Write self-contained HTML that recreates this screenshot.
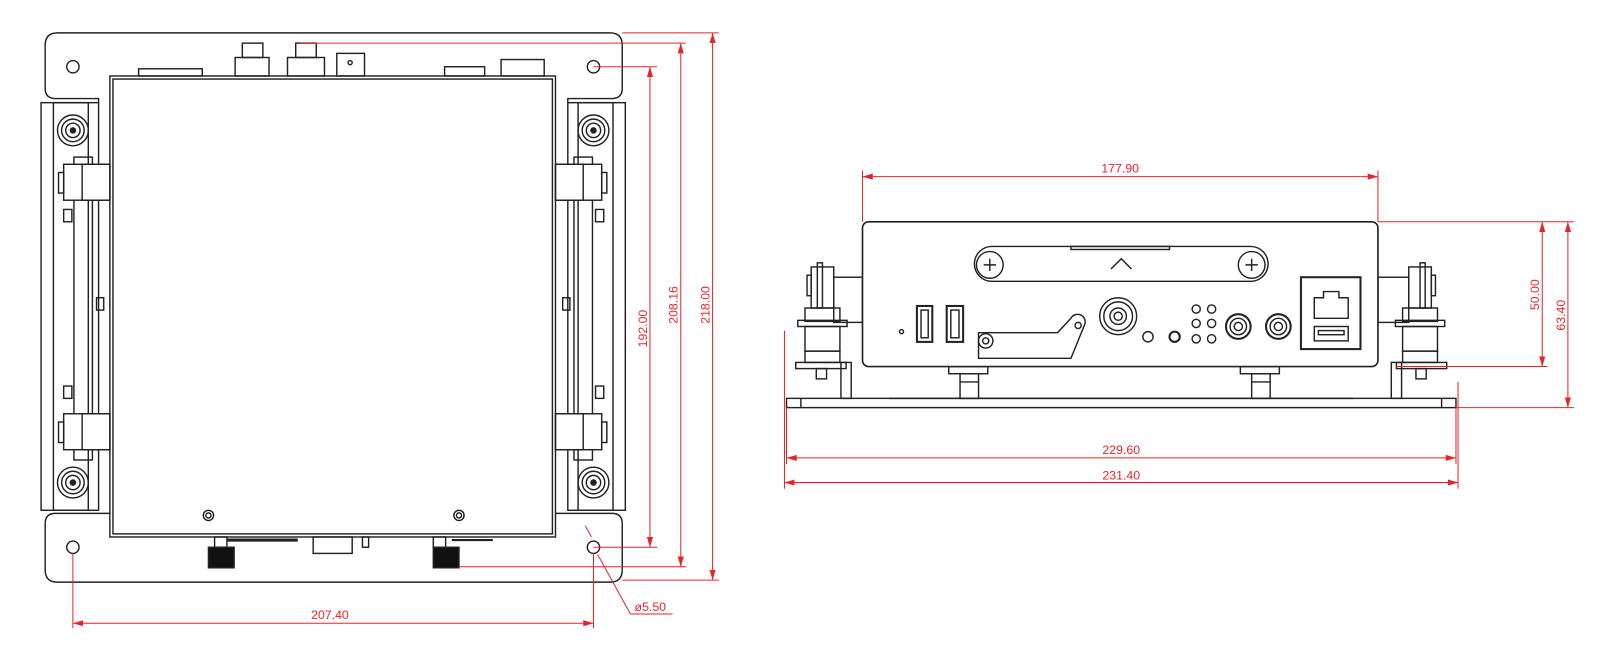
<!DOCTYPE html>
<html><head><meta charset="utf-8"><style>
html,body{margin:0;padding:0;background:#fff;width:1610px;height:653px;overflow:hidden}
svg{display:block}
text{font-family:"Liberation Sans",sans-serif;fill:#e8242a;font-size:12px}
</style></head><body>
<svg width="1610" height="653" viewBox="0 0 1568 636" preserveAspectRatio="none" xmlns="http://www.w3.org/2000/svg">
<defs>
<marker id="a" markerWidth="10" markerHeight="6" refX="10" refY="3" orient="auto-start-reverse" markerUnits="userSpaceOnUse"><path d="M0,0 L10,3 L0,6 z" fill="#e8242a"/></marker>
</defs>
<g fill="none" stroke="#222" stroke-width="1.4">
<!-- LEFT VIEW -->
<path d="M96,100 V96 H54 Q44,96 44,86 V44 Q44,32 56,32 H594 Q606,32 606,44 V86 Q606,96 596,96 H553 V100"/>
<path d="M54,500 H596 Q606,500 606,510 V555 Q606,567 594,567 H56 Q44,567 44,555 V510 Q44,500 54,500 Z"/>
<rect x="40" y="100" width="56" height="397"/>
<rect x="553" y="100" width="56" height="397"/>
<rect x="52" y="100" width="34" height="397"/>
<rect x="563" y="100" width="34" height="397"/>
<circle cx="71" cy="65" r="6"/><circle cx="578" cy="65" r="6"/>
<circle cx="71" cy="533" r="6"/><circle cx="578" cy="533" r="6"/>
<rect x="107" y="74" width="434" height="449" fill="#fff"/>
<rect x="110" y="77" width="428" height="443"/>
<rect x="135" y="67" width="62" height="7"/>
<rect x="229" y="56" width="33" height="18"/><rect x="236" y="42" width="20" height="14"/>
<rect x="280" y="56" width="36" height="18"/><rect x="288" y="42" width="20" height="14"/>
<rect x="328" y="52" width="27" height="22"/><circle cx="341" cy="61" r="2"/>
<rect x="433" y="65" width="39" height="9"/>
<rect x="488" y="58" width="42" height="16"/>
<g><circle cx="71" cy="127" r="15"/><circle cx="71" cy="127" r="11"/><circle cx="71" cy="127" r="7"/><circle cx="71" cy="127" r="2.5" fill="#222"/></g>
<g><circle cx="578" cy="127" r="15"/><circle cx="578" cy="127" r="11"/><circle cx="578" cy="127" r="7"/><circle cx="578" cy="127" r="2.5" fill="#222"/></g>
<g><circle cx="71" cy="470" r="15"/><circle cx="71" cy="470" r="11"/><circle cx="71" cy="470" r="7"/><circle cx="71" cy="470" r="2.5" fill="#222"/></g>
<g><circle cx="578" cy="470" r="15"/><circle cx="578" cy="470" r="11"/><circle cx="578" cy="470" r="7"/><circle cx="578" cy="470" r="2.5" fill="#222"/></g>
<rect x="72" y="153" width="18" height="295"/><rect x="559" y="153" width="18" height="295"/>
<rect x="62" y="160" width="45" height="35" fill="#fff"/><rect x="80" y="160" width="27" height="35"/>
<rect x="62" y="403" width="45" height="35" fill="#fff"/><rect x="80" y="403" width="27" height="35"/>
<rect x="541" y="160" width="45" height="35" fill="#fff"/><rect x="541" y="160" width="27" height="35"/>
<rect x="541" y="403" width="45" height="35" fill="#fff"/><rect x="541" y="403" width="27" height="35"/>
<rect x="57" y="168" width="5" height="20"/><rect x="586" y="168" width="5" height="20"/>
<rect x="57" y="411" width="5" height="20"/><rect x="586" y="411" width="5" height="20"/>
<rect x="62" y="204" width="8" height="12"/><rect x="580" y="204" width="8" height="12"/>
<rect x="62" y="376" width="8" height="12"/><rect x="580" y="376" width="8" height="12"/>
<rect x="94" y="290" width="7" height="12"/><rect x="548" y="290" width="7" height="12"/>
<circle cx="203" cy="502" r="5"/><circle cx="203" cy="502" r="2.5"/>
<circle cx="447" cy="502" r="5"/><circle cx="447" cy="502" r="2.5"/>
<rect x="209" y="523" width="12" height="10"/><rect x="422" y="523" width="12" height="10"/>
<rect x="305" y="523" width="38" height="16"/><rect x="353" y="523" width="6" height="10"/>
<line x1="221" y1="526" x2="290" y2="526" stroke-width="3"/>
<line x1="440" y1="526" x2="480" y2="526" stroke-width="2"/>
<rect x="203" y="533" width="25" height="20" fill="#111"/>
<rect x="422" y="533" width="25" height="20" fill="#111"/>

<!-- RIGHT VIEW -->
<rect x="766" y="388" width="652" height="9"/>
<line x1="866" y1="388" x2="1318" y2="388"/><line x1="780" y1="388" x2="780" y2="397"/><line x1="1404" y1="388" x2="1404" y2="397"/>
<g>
<rect x="790" y="260" width="22" height="40"/><rect x="796" y="256" width="5" height="44"/><rect x="786" y="268" width="4" height="20"/>
<rect x="812" y="270" width="28" height="44"/>
<rect x="784" y="300" width="34" height="13"/><rect x="777" y="312" width="48" height="6"/>
<rect x="784" y="318" width="34" height="24"/><rect x="784" y="342" width="34" height="11"/>
<rect x="775" y="353" width="49" height="6"/><rect x="795" y="359" width="10" height="10"/>
<rect x="819" y="353" width="10" height="35"/>
</g>
<g>
<rect x="1372" y="260" width="22" height="40"/><rect x="1383" y="256" width="5" height="44"/><rect x="1394" y="268" width="4" height="20"/>
<rect x="1342" y="270" width="30" height="44"/>
<rect x="1366" y="300" width="34" height="13"/><rect x="1359" y="312" width="48" height="6"/>
<rect x="1366" y="318" width="34" height="24"/><rect x="1366" y="342" width="34" height="11"/>
<rect x="1360" y="353" width="49" height="6"/><rect x="1379" y="359" width="10" height="10"/>
<rect x="1355" y="353" width="10" height="35"/>
</g>
<rect x="924" y="357" width="38" height="7"/><rect x="935" y="364" width="18" height="24"/><line x1="935" y1="372" x2="953" y2="372"/>
<rect x="1208" y="357" width="38" height="7"/><rect x="1219" y="364" width="18" height="24"/><line x1="1219" y1="372" x2="1237" y2="372"/>
<rect x="840" y="216" width="502" height="141" rx="6" fill="#fff" stroke-width="1.6"/>
<path d="M966,240 H1218 A17,17 0 0 1 1218,274 H966 A17,17 0 0 1 966,240 Z"/>
<circle cx="964" cy="258" r="13"/><path d="M958,258h12M964,252v12"/>
<circle cx="1219" cy="258" r="13"/><path d="M1213,258h12M1219,252v12"/>
<path d="M1082,262 L1092,252 L1102,262"/>
<rect x="1043" y="240" width="96" height="3"/>
<circle cx="878" cy="323" r="2"/>
<rect x="893" y="298" width="15" height="35" stroke-width="2"/><rect x="897" y="302" width="7" height="27"/>
<rect x="922" y="298" width="16" height="35" stroke-width="2"/><rect x="926" y="302" width="8" height="27"/>
<circle cx="960" cy="332" r="7"/><circle cx="960" cy="332" r="3"/>
<path d="M953,324 H982 L1030,324 L1043,310 A7,7 0 0 1 1056,317 L1043,349 H953 Z"/>
<circle cx="1050" cy="317" r="3"/>
<circle cx="1089" cy="308" r="18"/><circle cx="1089" cy="308" r="14"/><circle cx="1089" cy="308" r="8"/><circle cx="1089" cy="308" r="4"/>
<circle cx="1118" cy="328" r="5"/><circle cx="1144" cy="328" r="5" stroke-width="2"/>
<circle cx="1165" cy="301" r="4"/><circle cx="1180" cy="301" r="4"/>
<circle cx="1165" cy="315" r="4"/><circle cx="1180" cy="315" r="4"/>
<circle cx="1165" cy="330" r="4"/><circle cx="1180" cy="330" r="4"/>
<circle cx="1206" cy="318" r="12" stroke-width="2"/><circle cx="1206" cy="318" r="8"/><circle cx="1206" cy="318" r="4"/>
<circle cx="1245" cy="318" r="12" stroke-width="2"/><circle cx="1245" cy="318" r="8"/><circle cx="1245" cy="318" r="4"/>
<rect x="1267" y="270" width="58" height="70" stroke-width="2"/>
<path d="M1280,310 V290 H1289 V284 H1304 V290 H1313 V310 Z"/>
<rect x="1280" y="318" width="33" height="14"/><rect x="1284" y="322" width="25" height="4"/>
</g>

<g stroke="#e8242a" stroke-width="1" fill="none">
<line x1="578" y1="65" x2="640" y2="65"/><line x1="578" y1="533" x2="640" y2="533"/>
<line x1="633" y1="65" x2="633" y2="533" marker-start="url(#a)" marker-end="url(#a)"/>
<line x1="292" y1="42" x2="668" y2="42"/><line x1="447" y1="552" x2="668" y2="552"/>
<line x1="663" y1="42" x2="663" y2="552" marker-start="url(#a)" marker-end="url(#a)"/>
<line x1="606" y1="32" x2="700" y2="32"/><line x1="606" y1="565" x2="700" y2="565"/>
<line x1="694" y1="32" x2="694" y2="565" marker-start="url(#a)" marker-end="url(#a)"/>
<line x1="71" y1="539" x2="71" y2="612"/><line x1="578" y1="539" x2="578" y2="612"/>
<line x1="71" y1="607" x2="578" y2="607" marker-start="url(#a)" marker-end="url(#a)"/>
<line x1="570" y1="512" x2="576" y2="523"/>
<polyline points="582,540 614,598 655,598"/>
<line x1="840" y1="166" x2="840" y2="216"/><line x1="1342" y1="166" x2="1342" y2="216"/>
<line x1="840" y1="172" x2="1342" y2="172" marker-start="url(#a)" marker-end="url(#a)"/>
<line x1="1342" y1="216" x2="1533" y2="216"/><line x1="1360" y1="357" x2="1507" y2="357"/>
<line x1="1502" y1="216" x2="1502" y2="357" marker-start="url(#a)" marker-end="url(#a)"/>
<line x1="1418" y1="397" x2="1533" y2="397"/>
<line x1="1527" y1="216" x2="1527" y2="397" marker-start="url(#a)" marker-end="url(#a)"/>
<line x1="764" y1="322" x2="764" y2="476"/><line x1="766" y1="397" x2="766" y2="452"/>
<line x1="1418" y1="397" x2="1418" y2="452"/><line x1="1420" y1="372" x2="1420" y2="476"/>
<line x1="766" y1="446" x2="1418" y2="446" marker-start="url(#a)" marker-end="url(#a)"/>
<line x1="764" y1="470" x2="1420" y2="470" marker-start="url(#a)" marker-end="url(#a)"/>
</g>
<g stroke="none">
<text x="303" y="603">207.40</text>
<text x="618" y="595">ø5.50</text>
<text transform="translate(630,320) rotate(-90)" text-anchor="middle">192.00</text>
<text transform="translate(660,297) rotate(-90)" text-anchor="middle">208.16</text>
<text transform="translate(691,297) rotate(-90)" text-anchor="middle">218.00</text>
<text x="1091" y="168" text-anchor="middle">177.90</text>
<text transform="translate(1499,287) rotate(-90)" text-anchor="middle">50.00</text>
<text transform="translate(1524,307) rotate(-90)" text-anchor="middle">63.40</text>
<text x="1092" y="442" text-anchor="middle">229.60</text>
<text x="1092" y="467" text-anchor="middle">231.40</text>
</g>
</svg>
</body></html>
